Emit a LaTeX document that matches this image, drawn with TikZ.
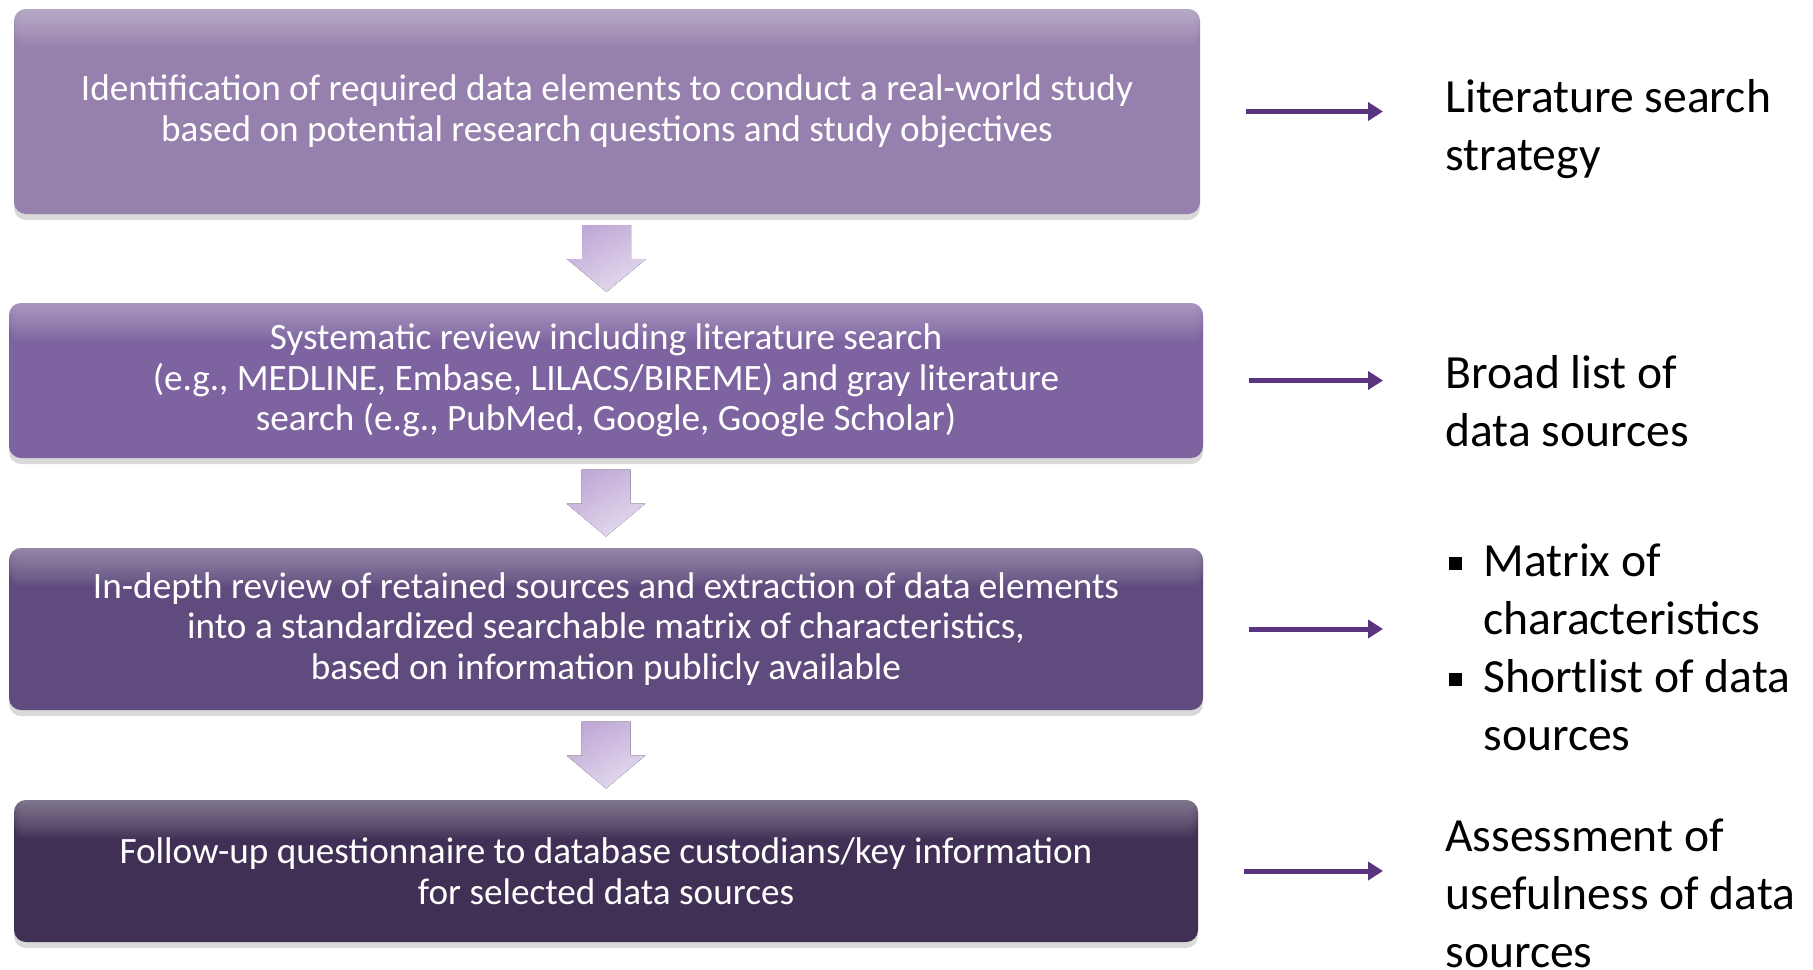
\documentclass[tikz,border=0pt]{standalone}
\usepackage{fontspec}
\setmainfont{Carlito}
\usetikzlibrary{calc,shadows,arrows.meta}
\definecolor{stepone}{HTML}{9680AE}
\definecolor{steptwo}{HTML}{7D63A0}
\definecolor{stepthree}{HTML}{5F4B7D}
\definecolor{stepfour}{HTML}{413055}
\definecolor{outpurple}{HTML}{5B3480}
\definecolor{downlight}{HTML}{E4DAEE}
\definecolor{downdark}{HTML}{C0A9D6}
\tikzset{
  stepbox/.style={fill=#1, rounded corners=6pt, text=white, align=center,
    font=\fontsize{18.6}{20.25}\selectfont, inner sep=0pt,
    drop shadow={shadow xshift=0pt, shadow yshift=-3pt, opacity=0.3},
    path picture={\foreach \k in {1,...,12}
      \fill[white, opacity=0.035] (path picture bounding box.north west) rectangle
      ([yshift=-\k*1.6pt]path picture bounding box.north east);}},
  downfill/.style={top color=downdark, bottom color=downlight, shading angle=30},
  outarrow/.style={draw=outpurple, line width=2.5pt, -{Triangle[length=7.5pt,width=9pt]}, shorten >=31pt},
  result/.style={anchor=west, inner sep=0pt, align=left, font=\fontsize{23.8}{29}\selectfont}
}
\newcommand{\sqbullet}{\makebox[17pt][l]{\rule[3.5pt]{6.5pt}{6.5pt}}}
\begin{document}
\begin{tikzpicture}[x=0.5pt,y=-0.5pt]
\useasboundingbox (0,0) rectangle (1813,969);
% steps
\node[stepbox=stepone, minimum width=593pt, minimum height=102.5pt] (b1) at (607,111.5)
  {Identification of required data elements to conduct a real-world study\\
   based on potential research questions and study objectives};
\node[stepbox=steptwo, minimum width=597pt, minimum height=77.5pt] (b2) at (606,380.5)
  {Systematic review including literature search\\
   (e.g., MEDLINE, Embase, LILACS/BIREME) and gray literature\\
   search (e.g., PubMed, Google, Google Scholar)};
\node[stepbox=stepthree, minimum width=597pt, minimum height=81pt] (b3) at (606,629)
  {In-depth review of retained sources and extraction of data elements\\
   into a standardized searchable matrix of characteristics,\\
   based on information publicly available};
\node[stepbox=stepfour, minimum width=592pt, minimum height=71pt] (b4) at (606,871)
  {Follow-up questionnaire to database custodians/key information\\
   for selected data sources};
% outcomes
\node[result] (r1) at (1445,129) {Literature search\\strategy};
\node[result] (r2) at (1445,401.5) {Broad list of\\data sources};
\node[result] (r3) at (1449,647.5) {\sqbullet Matrix of\\\hspace*{17pt}characteristics\\
  \sqbullet Shortlist of data\\\hspace*{17pt}sources};
\node[result] (r4) at (1445,893.5) {Assessment of\\usefulness of data\\sources};
% block arrows between steps
\foreach \a/\b in {b1/b2,b2/b3,b3/b4}{
  \coordinate (m) at ($(\a.south)!0.5!(\b.north)$);
  \fill[downfill] ($(m)+(-24.5,-33.5)$) -- ($(m)+(24.5,-33.5)$) -- ($(m)+(24.5,0.5)$)
    -- ($(m)+(39.5,0.5)$) -- ($(m)+(0,33.5)$) -- ($(m)+(-39.5,0.5)$) -- ($(m)+(-24.5,0.5)$) -- cycle;
}
% arrows to outcomes
\foreach \i in {1,...,4}
  \draw[outarrow] ([xshift=23pt]b\i.east) -- (b\i.east -| r1.west);
\end{tikzpicture}
\end{document}
